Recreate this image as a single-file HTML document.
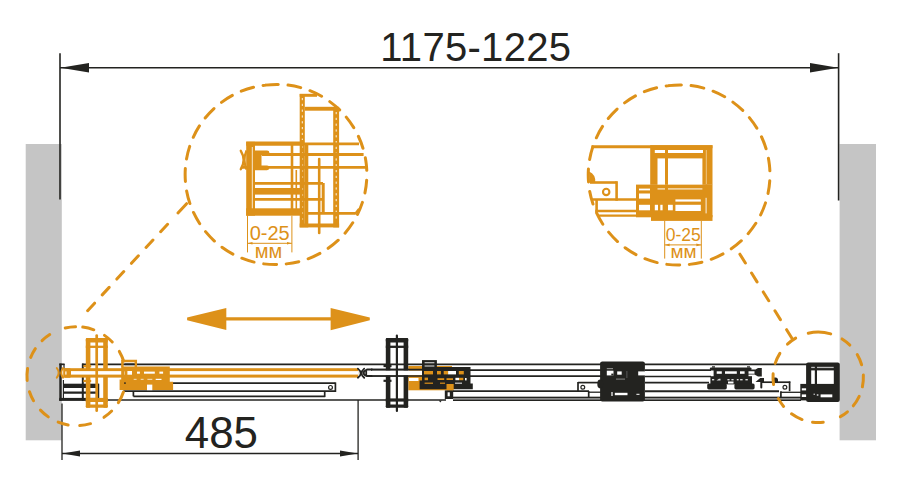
<!DOCTYPE html>
<html><head><meta charset="utf-8"><title>1175-1225</title>
<style>
html,body{margin:0;padding:0;background:#fff;}
body{width:898px;height:482px;overflow:hidden;font-family:"Liberation Sans",sans-serif;}
svg{display:block;font-family:"Liberation Sans",sans-serif;}
</style></head><body>
<svg width="898" height="482" viewBox="0 0 898 482">
<rect width="898" height="482" fill="#fff"/>
<rect x="25.70" y="144.00" width="36.10" height="296.30" fill="#c5c5c5" />
<rect x="839.60" y="144.00" width="36.40" height="296.30" fill="#c5c5c5" />
<line x1="60.00" y1="53.20" x2="60.00" y2="199.50" stroke="#232320" stroke-width="1.6" />
<line x1="838.60" y1="53.20" x2="838.60" y2="200.50" stroke="#232320" stroke-width="1.6" />
<line x1="60.00" y1="67.80" x2="838.60" y2="67.80" stroke="#232320" stroke-width="1.6" />
<polygon points="60.5,67.8 89,63 89,72.6" fill="#232320"/>
<polygon points="838.2,67.8 810,63 810,72.6" fill="#232320"/>
<text x="475.8" y="60.8" font-size="40" letter-spacing="0.3" text-anchor="middle" fill="#232320">1175-1225</text>
<line x1="62.00" y1="403.50" x2="62.00" y2="460.00" stroke="#232320" stroke-width="1.3" />
<line x1="358.10" y1="400.00" x2="358.10" y2="460.00" stroke="#232320" stroke-width="1.3" />
<line x1="62.00" y1="453.50" x2="358.10" y2="453.50" stroke="#232320" stroke-width="1.3" />
<polygon points="62.3,453.5 80,450.6 80,456.4" fill="#232320"/>
<polygon points="357.8,453.5 340,450.6 340,456.4" fill="#232320"/>
<text x="221.4" y="447.9" font-size="45" textLength="73.2" lengthAdjust="spacingAndGlyphs" text-anchor="middle" fill="#232320">485</text>
<line x1="220.00" y1="318.90" x2="336.00" y2="318.90" stroke="#dd9119" stroke-width="3.1" />
<polygon points="187.1,317.6 187.1,320.2 226.3,329.9 226.3,307.9" fill="#dd9119"/>
<polygon points="369.8,317.6 369.8,320.2 330.6,330.3 330.6,307.9" fill="#dd9119"/>
<path d="M265.49,85.12 A90,90 0 1 1 286.51,263.88 A90,90 0 1 1 265.49,85.12" fill="none" stroke="#dd9119" stroke-width="3.0" stroke-dasharray="12.89 9.73" stroke-linecap="round"/>
<path d="M668.59,85.62 A90,90 0 1 1 689.61,264.38 A90,90 0 1 1 668.59,85.62" fill="none" stroke="#dd9119" stroke-width="3.0" stroke-dasharray="12.89 9.73" stroke-linecap="round"/>
<line x1="186.58" y1="203.70" x2="177.96" y2="213.02" stroke="#dd9119" stroke-width="3.0" stroke-linecap="round"/>
<line x1="167.57" y1="224.25" x2="85.75" y2="312.70" stroke="#dd9119" stroke-width="3.0" stroke-dasharray="10.2 11.3" stroke-linecap="round"/>
<line x1="739.89" y1="254.18" x2="792.49" y2="339.18" stroke="#dd9119" stroke-width="3.0" stroke-dasharray="10.4 11.8" stroke-linecap="round"/>
<g id="detail-left">
<rect x="299.70" y="94.00" width="5.10" height="133.40" fill="#dd9119" />
<rect x="304.80" y="143.00" width="3.50" height="84.40" fill="#dd9119" />
<line x1="299.70" y1="95.30" x2="317.00" y2="95.30" stroke="#dd9119" stroke-width="3" />
<rect x="304.80" y="106.80" width="34.30" height="3.90" fill="#dd9119" />
<rect x="333.20" y="107.00" width="5.90" height="120.40" fill="#dd9119" />
<rect x="299.70" y="223.50" width="39.40" height="3.90" fill="#dd9119" />
<line x1="302.30" y1="98.00" x2="302.30" y2="140.00" stroke="#ffffff" stroke-width="0.9" stroke-dasharray="2.2 3.6"/>
<line x1="302.60" y1="146.00" x2="302.60" y2="222.00" stroke="#f0c583" stroke-width="0.8" stroke-dasharray="2 4"/>
<line x1="336.20" y1="112.00" x2="336.20" y2="222.00" stroke="#ffffff" stroke-width="0.9" stroke-dasharray="2.2 3.6"/>
<line x1="246.20" y1="143.60" x2="300.00" y2="143.60" stroke="#dd9119" stroke-width="4.2" />
<line x1="300.00" y1="143.80" x2="359.00" y2="143.80" stroke="#dd9119" stroke-width="2.8" />
<line x1="262.00" y1="154.50" x2="363.60" y2="154.50" stroke="#dd9119" stroke-width="2.8" />
<line x1="241.00" y1="167.30" x2="366.00" y2="167.30" stroke="#dd9119" stroke-width="2.8" />
<rect x="246.20" y="141.80" width="8.80" height="73.90" fill="#dd9119" />
<line x1="252.30" y1="147.00" x2="252.30" y2="209.00" stroke="#ffffff" stroke-width="0.8" />
<rect x="246.20" y="208.30" width="54.30" height="7.40" fill="#dd9119" />
<line x1="255.00" y1="183.40" x2="323.00" y2="183.40" stroke="#dd9119" stroke-width="2.8" />
<rect x="255.00" y="188.00" width="45.00" height="6.60" fill="#dd9119" />
<line x1="255.00" y1="199.40" x2="323.00" y2="199.40" stroke="#dd9119" stroke-width="2.8" />
<line x1="292.00" y1="145.00" x2="292.00" y2="212.00" stroke="#dd9119" stroke-width="2.6" />
<line x1="296.30" y1="170.00" x2="296.30" y2="212.00" stroke="#dd9119" stroke-width="1.6" />
<line x1="319.20" y1="159.00" x2="319.20" y2="233.00" stroke="#dd9119" stroke-width="2.6" stroke-linecap="round"/>
<line x1="323.20" y1="183.00" x2="323.20" y2="214.00" stroke="#dd9119" stroke-width="3" />
<line x1="308.00" y1="213.40" x2="355.50" y2="213.40" stroke="#dd9119" stroke-width="2.6" />
<line x1="355.50" y1="213.40" x2="358.50" y2="209.50" stroke="#dd9119" stroke-width="2.2" stroke-linecap="round"/>
<path d="M255,150.4 H267 a2.4,2.4 0 0 1 0,4.8 H261.5 V165.4 H267 a2.4,2.4 0 0 1 0,4.8 H255 Z" fill="#dd9119" stroke="none" stroke-width="0" />
<path d="M240.8,150.8 Q246.5,160 240.8,169.2" fill="none" stroke="#dd9119" stroke-width="2.4" stroke-linecap="round"/>
<path d="M246.5,150.5 Q242.5,160 246.5,169.5" fill="none" stroke="#dd9119" stroke-width="2.2" />
<line x1="247.50" y1="215.70" x2="247.50" y2="252.40" stroke="#dd9119" stroke-width="1.0" />
<line x1="291.90" y1="215.70" x2="291.90" y2="252.40" stroke="#dd9119" stroke-width="1.0" />
<line x1="247.50" y1="243.30" x2="291.90" y2="243.30" stroke="#dd9119" stroke-width="1.0" />
<polygon points="247.8,243.3 252.5,242 252.5,244.6" fill="#dd9119"/>
<polygon points="291.6,243.3 287,242 287,244.6" fill="#dd9119"/>
<text x="269.7" y="240.2" font-size="20" text-anchor="middle" fill="#dd9119">0-25</text>
<text x="268.5" y="257.8" font-size="20" text-anchor="middle" fill="#dd9119">мм</text>
</g>
<g id="detail-right">
<line x1="591.50" y1="146.70" x2="712.50" y2="146.70" stroke="#dd9119" stroke-width="3" />
<rect x="650.20" y="145.20" width="62.30" height="39.60" fill="#dd9119" />
<rect x="636.00" y="184.60" width="76.50" height="32.70" fill="#dd9119" />
<rect x="651.00" y="215.00" width="61.50" height="5.90" fill="#dd9119" />
<rect x="654.80" y="150.00" width="10.20" height="3.00" fill="#ffffff" />
<rect x="668.00" y="150.00" width="35.00" height="3.00" fill="#ffffff" />
<rect x="657.50" y="158.40" width="7.50" height="26.20" fill="#ffffff" />
<rect x="668.00" y="158.40" width="34.40" height="26.20" fill="#ffffff" />
<line x1="706.30" y1="150.00" x2="706.30" y2="184.00" stroke="#f3d3a0" stroke-width="0.8" />
<rect x="639.00" y="188.60" width="11.00" height="1.80" fill="#ffffff" />
<rect x="657.50" y="188.20" width="7.50" height="1.40" fill="#f6dfba" />
<rect x="668.00" y="188.20" width="34.40" height="1.40" fill="#f6dfba" />
<rect x="639.00" y="193.50" width="11.00" height="5.10" fill="#ffffff" />
<rect x="639.00" y="204.80" width="11.00" height="5.50" fill="#ffffff" />
<rect x="654.80" y="204.80" width="3.20" height="5.50" fill="#ffffff" />
<rect x="660.30" y="204.80" width="2.30" height="5.50" fill="#ffffff" />
<rect x="668.00" y="204.80" width="4.80" height="5.50" fill="#ffffff" />
<rect x="675.40" y="199.40" width="25.40" height="2.20" fill="#ffffff" />
<rect x="675.40" y="204.80" width="25.40" height="6.20" fill="#ffffff" />
<line x1="706.10" y1="197.80" x2="706.10" y2="213.40" stroke="#ffffff" stroke-width="0.9" />
<line x1="590.00" y1="182.50" x2="616.60" y2="182.50" stroke="#dd9119" stroke-width="2.6" />
<line x1="616.60" y1="181.20" x2="616.60" y2="200.80" stroke="#dd9119" stroke-width="2.6" />
<line x1="592.50" y1="199.50" x2="636.00" y2="199.50" stroke="#dd9119" stroke-width="2.6" />
<line x1="596.60" y1="199.50" x2="596.60" y2="212.00" stroke="#dd9119" stroke-width="2.6" />
<line x1="595.30" y1="211.00" x2="636.00" y2="211.00" stroke="#dd9119" stroke-width="2.4" />
<line x1="599.00" y1="215.60" x2="636.00" y2="215.60" stroke="#dd9119" stroke-width="2.4" />
<circle cx="606.2" cy="191.9" r="3.2" fill="none" stroke="#dd9119" stroke-width="2.1"/>
<path d="M589,171.5 Q596,174.5 595.2,182.5 H589.5 Z" fill="#dd9119" stroke="none" stroke-width="0" />
<line x1="664.70" y1="220.90" x2="664.70" y2="258.60" stroke="#dd9119" stroke-width="1.0" />
<line x1="701.30" y1="220.90" x2="701.30" y2="258.60" stroke="#dd9119" stroke-width="1.0" />
<line x1="664.70" y1="244.90" x2="701.30" y2="244.90" stroke="#dd9119" stroke-width="1.0" />
<polygon points="665,244.9 669.6,243.6 669.6,246.2" fill="#dd9119"/>
<polygon points="701,244.9 696.4,243.6 696.4,246.2" fill="#dd9119"/>
<text x="683.3" y="241.1" font-size="18.4" textLength="35" lengthAdjust="spacingAndGlyphs" text-anchor="middle" fill="#dd9119">0-25</text>
<text x="683.5" y="258.1" font-size="19" text-anchor="middle" fill="#dd9119">мм</text>
</g>
<g id="assembly">
<line x1="82.00" y1="364.30" x2="807.00" y2="364.30" stroke="#232320" stroke-width="1.7" />
<line x1="59.30" y1="400.00" x2="446.00" y2="400.00" stroke="#232320" stroke-width="1.7" />
<line x1="82.80" y1="363.60" x2="82.80" y2="400.70" stroke="#232320" stroke-width="2" />
<rect x="59.30" y="363.60" width="2.40" height="37.10" fill="#232320" />
<line x1="59.30" y1="364.30" x2="64.60" y2="364.30" stroke="#232320" stroke-width="1.7" />
<line x1="64.00" y1="364.00" x2="64.00" y2="369.00" stroke="#232320" stroke-width="1.2" />
<line x1="63.40" y1="380.00" x2="63.40" y2="400.00" stroke="#232320" stroke-width="1.2" />
<rect x="64.00" y="383.70" width="34.60" height="4.30" fill="#232320" />
<line x1="64.00" y1="392.60" x2="98.60" y2="392.60" stroke="#232320" stroke-width="2.1" />
<rect x="59.30" y="397.90" width="39.30" height="2.70" fill="#232320" />
<line x1="98.60" y1="383.70" x2="98.60" y2="400.00" stroke="#232320" stroke-width="1.3" />
<line x1="171.50" y1="383.10" x2="335.40" y2="383.10" stroke="#232320" stroke-width="1.7" />
<line x1="123.40" y1="391.20" x2="335.40" y2="391.20" stroke="#232320" stroke-width="1.7" />
<line x1="133.40" y1="396.40" x2="324.70" y2="396.40" stroke="#232320" stroke-width="1.7" />
<line x1="133.40" y1="391.20" x2="133.40" y2="396.40" stroke="#232320" stroke-width="1.7" />
<line x1="335.40" y1="382.40" x2="335.40" y2="392.00" stroke="#232320" stroke-width="1.7" />
<line x1="324.70" y1="391.20" x2="324.70" y2="397.10" stroke="#232320" stroke-width="1.7" />
<circle cx="330.5" cy="387.4" r="1.9" fill="none" stroke="#232320" stroke-width="1.2"/>
<rect x="85.80" y="338.00" width="4.60" height="69.80" fill="#dd9119" rx="1"/>
<rect x="103.20" y="338.00" width="4.60" height="69.80" fill="#dd9119" rx="1"/>
<rect x="85.80" y="338.00" width="22.00" height="4.40" fill="#dd9119" rx="1.5"/>
<rect x="85.80" y="404.50" width="22.00" height="3.30" fill="#dd9119" rx="1.5"/>
<line x1="85.80" y1="346.80" x2="107.80" y2="346.80" stroke="#dd9119" stroke-width="2.3" />
<rect x="85.80" y="397.90" width="22.00" height="4.10" fill="#dd9119" />
<line x1="83.40" y1="366.20" x2="91.20" y2="366.20" stroke="#dd9119" stroke-width="2.2" />
<line x1="83.40" y1="381.00" x2="91.20" y2="381.00" stroke="#dd9119" stroke-width="2.2" />
<rect x="63.20" y="368.20" width="295.00" height="9.40" fill="#dd9119" />
<rect x="71.00" y="371.10" width="287.20" height="3.50" fill="#ffffff" />
<line x1="96.70" y1="335.50" x2="96.70" y2="410.70" stroke="#dd9119" stroke-width="2.7" stroke-linecap="round"/>
<path d="M56.8,368 Q60.5,372.8 56.8,377.6" fill="none" stroke="#dd9119" stroke-width="2.0" stroke-linecap="round"/>
<path d="M63,368 Q59.5,372.8 63,377.6" fill="none" stroke="#dd9119" stroke-width="2.0" stroke-linecap="round"/>
<path d="M64.5,368.2 H69.5 a1.3,1.3 0 0 1 0,2.6 H66.8 V375.2 H69.5 a1.3,1.3 0 0 1 0,2.6 H64.5 Z" fill="#dd9119" stroke="none" stroke-width="0" />
<rect x="65.30" y="371.40" width="1.20" height="3.20" fill="#ffffff" />
<path d="M121.2,366.4 H169.8 V381.8 H173.1 V390 H119.6 V379.4 H121.2 Z" fill="#dd9119" stroke="none" stroke-width="0" />
<path d="M122.4,367 V361 H135.8 V367" fill="none" stroke="#dd9119" stroke-width="2.5" />
<line x1="124.60" y1="364.30" x2="134.60" y2="364.30" stroke="#232320" stroke-width="1.7" />
<rect x="147.00" y="384.60" width="5.30" height="5.60" fill="#ffffff" />
<rect x="127.40" y="371.00" width="4.60" height="3.70" fill="#ffffff" />
<rect x="137.00" y="371.60" width="2.90" height="2.10" fill="#ffffff" />
<rect x="144.00" y="371.60" width="10.80" height="2.10" fill="#ffffff" />
<rect x="159.40" y="371.60" width="3.70" height="2.10" fill="#ffffff" />
<rect x="133.70" y="378.80" width="2.90" height="1.20" fill="#f3d5a4" />
<rect x="140.70" y="378.80" width="2.90" height="1.20" fill="#f3d5a4" />
<rect x="147.40" y="378.80" width="4.90" height="1.20" fill="#f3d5a4" />
<rect x="155.70" y="378.80" width="5.80" height="1.20" fill="#ffffff" />
<rect x="124.20" y="371.40" width="0.70" height="3.30" fill="#f3d5a4" />
<rect x="124.10" y="382.40" width="1.70" height="1.40" fill="#232320" />
<line x1="371.00" y1="369.70" x2="423.00" y2="369.70" stroke="#232320" stroke-width="1.7" />
<line x1="371.00" y1="376.00" x2="423.00" y2="376.00" stroke="#232320" stroke-width="1.7" />
<path d="M357.9,368.6 Q363.6,373.2 357.9,377.8" fill="none" stroke="#232320" stroke-width="1.8" stroke-linecap="round"/>
<path d="M364.2,368.6 Q358.8,373.2 364.2,377.8" fill="none" stroke="#232320" stroke-width="1.8" stroke-linecap="round"/>
<path d="M372.5,369.6 H367 Q360,372.9 367,376.1 H372.5" fill="none" stroke="#232320" stroke-width="2.0" />
<line x1="366.20" y1="370.50" x2="366.20" y2="375.30" stroke="#232320" stroke-width="1.8" />
<rect x="408.30" y="366.00" width="43.70" height="24.30" fill="#dd9119" />
<rect x="404.00" y="370.60" width="19.00" height="4.60" fill="#ffffff" />
<rect x="409.00" y="377.90" width="9.50" height="3.10" fill="#ffffff" />
<rect x="385.80" y="338.00" width="4.60" height="69.80" fill="#232320" rx="1"/>
<rect x="403.60" y="338.00" width="4.60" height="69.80" fill="#232320" rx="1"/>
<rect x="385.80" y="338.00" width="22.40" height="4.40" fill="#232320" rx="1.5"/>
<rect x="385.80" y="404.50" width="22.40" height="3.30" fill="#232320" rx="1.5"/>
<line x1="385.80" y1="346.80" x2="408.20" y2="346.80" stroke="#232320" stroke-width="2.3" />
<rect x="385.80" y="398.40" width="22.40" height="3.20" fill="#232320" />
<line x1="383.50" y1="366.00" x2="391.50" y2="366.00" stroke="#232320" stroke-width="2.2" />
<line x1="383.50" y1="380.80" x2="391.50" y2="380.80" stroke="#232320" stroke-width="2.2" />
<rect x="372.00" y="370.50" width="37.00" height="4.70" fill="#ffffff" />
<line x1="371.00" y1="369.70" x2="423.00" y2="369.70" stroke="#232320" stroke-width="1.7" />
<line x1="371.00" y1="376.00" x2="423.00" y2="376.00" stroke="#232320" stroke-width="1.7" />
<line x1="396.90" y1="335.50" x2="396.90" y2="410.90" stroke="#232320" stroke-width="2.2" stroke-linecap="round"/>
<rect x="422.00" y="360.10" width="14.90" height="7.90" fill="#232320" />
<line x1="424.60" y1="362.70" x2="434.40" y2="362.70" stroke="#c9c9c9" stroke-width="1.2" />
<line x1="424.60" y1="366.00" x2="434.40" y2="366.00" stroke="#c9c9c9" stroke-width="1.2" />
<path d="M422,367 H470.5 V383.4 H472.8 V389.2 H419.6 V380.6 H422 Z" fill="#232320" stroke="none" stroke-width="0" />
<rect x="424.00" y="371.00" width="9.00" height="3.40" fill="#dd9119" />
<rect x="437.00" y="371.00" width="3.90" height="3.40" fill="#dd9119" />
<rect x="443.70" y="371.00" width="4.40" height="3.40" fill="#dd9119" />
<rect x="448.10" y="371.00" width="7.90" height="3.40" fill="#ffffff" />
<rect x="458.80" y="371.00" width="5.00" height="3.40" fill="#dd9119" />
<rect x="424.60" y="377.60" width="3.40" height="2.60" fill="#dd9119" />
<rect x="437.50" y="378.20" width="6.70" height="1.80" fill="#dd9119" />
<rect x="446.50" y="378.20" width="6.50" height="1.80" fill="#dd9119" />
<rect x="455.40" y="377.80" width="3.60" height="2.40" fill="#ffffff" />
<rect x="459.00" y="377.80" width="4.30" height="2.40" fill="#dd9119" />
<rect x="465.00" y="378.00" width="1.60" height="2.40" fill="#ffffff" />
<rect x="424.60" y="382.60" width="8.40" height="1.20" fill="#dd9119" />
<rect x="440.00" y="382.60" width="5.00" height="1.20" fill="#dd9119" />
<rect x="455.00" y="382.60" width="7.00" height="1.20" fill="#cfcfcf" />
<rect x="446.50" y="384.00" width="7.20" height="6.70" fill="#dd9119" />
<rect x="444.80" y="390.40" width="8.40" height="8.60" fill="#232320" />
<rect x="447.60" y="392.30" width="2.20" height="4.00" fill="#ffffff" />
<polygon points="438.8,400.6 441.8,400.6 440.3,402.6" fill="#232320"/>
<line x1="470.00" y1="370.10" x2="601.00" y2="370.10" stroke="#232320" stroke-width="1.7" />
<line x1="470.00" y1="376.20" x2="601.00" y2="376.20" stroke="#232320" stroke-width="1.7" />
<line x1="453.00" y1="391.10" x2="589.00" y2="391.10" stroke="#232320" stroke-width="1.7" />
<rect x="453.00" y="396.80" width="348.00" height="4.10" fill="#8a8a89" />
<line x1="453.00" y1="397.30" x2="801.00" y2="397.30" stroke="#232320" stroke-width="1.3" />
<line x1="453.00" y1="400.40" x2="801.00" y2="400.40" stroke="#232320" stroke-width="1.3" />
<line x1="578.00" y1="382.60" x2="601.00" y2="382.60" stroke="#232320" stroke-width="1.7" />
<line x1="578.00" y1="381.90" x2="578.00" y2="391.80" stroke="#232320" stroke-width="1.7" />
<circle cx="582.8" cy="387.3" r="1.9" fill="none" stroke="#232320" stroke-width="1.2"/>
<line x1="588.70" y1="391.10" x2="588.70" y2="397.00" stroke="#232320" stroke-width="1.7" />
<line x1="588.70" y1="392.20" x2="601.00" y2="392.20" stroke="#232320" stroke-width="1.3" />
<rect x="600.1" y="361.4" width="44.8" height="40.1" rx="2.2" fill="#232320"/>
<ellipse cx="600.2" cy="384" rx="2.9" ry="4.4" fill="#232320"/>
<rect x="606.80" y="370.70" width="6.70" height="4.70" fill="#ffffff" />
<rect x="611.30" y="373.60" width="2.20" height="1.80" fill="#232320" />
<rect x="617.20" y="371.40" width="4.50" height="3.30" fill="#ffffff" />
<rect x="614.80" y="392.80" width="12.70" height="2.40" fill="#ffffff" />
<rect x="611.40" y="392.00" width="1.20" height="4.00" fill="#ffffff" />
<rect x="606.80" y="368.00" width="6.20" height="1.20" fill="#8a8a89" />
<rect x="616.00" y="378.60" width="9.00" height="1.00" fill="#8a8a89" />
<rect x="626.50" y="371.00" width="0.80" height="7.00" fill="#666" />
<rect x="638.20" y="371.40" width="7.00" height="4.00" fill="#ffffff" />
<rect x="636.40" y="393.80" width="3.10" height="1.00" fill="#ffffff" />
<line x1="645.00" y1="370.10" x2="711.00" y2="370.10" stroke="#232320" stroke-width="1.7" />
<line x1="645.00" y1="376.50" x2="711.00" y2="376.50" stroke="#232320" stroke-width="1.7" />
<line x1="645.00" y1="382.70" x2="709.00" y2="382.70" stroke="#232320" stroke-width="1.7" />
<line x1="645.00" y1="391.20" x2="779.00" y2="391.20" stroke="#232320" stroke-width="2" />
<rect x="710.00" y="367.40" width="41.40" height="3.10" fill="#232320" rx="0.8"/>
<rect x="713.60" y="369.00" width="34.90" height="8.00" fill="#232320" />
<rect x="710.40" y="376.20" width="41.60" height="8.20" fill="#232320" />
<rect x="712.00" y="366.30" width="3.00" height="1.30" fill="#232320" />
<rect x="747.00" y="366.30" width="3.00" height="1.30" fill="#232320" />
<rect x="707.20" y="383.40" width="19.60" height="6.00" fill="#232320" rx="1.6"/>
<rect x="734.40" y="383.40" width="20.20" height="6.00" fill="#232320" rx="1.6"/>
<rect x="716.70" y="371.30" width="5.10" height="2.50" fill="#ffffff" />
<rect x="725.00" y="371.30" width="11.80" height="2.50" fill="#ffffff" />
<rect x="740.00" y="371.30" width="4.60" height="2.50" fill="#ffffff" />
<rect x="712.00" y="379.00" width="2.20" height="1.40" fill="#d9d9d9" />
<path d="M716.5,380.6 L719,378.8 H720.5 V380.6 Z" fill="#d9d9d9" stroke="none" stroke-width="0" />
<rect x="727.40" y="379.00" width="2.20" height="1.40" fill="#d9d9d9" />
<rect x="731.40" y="379.00" width="2.20" height="1.40" fill="#d9d9d9" />
<rect x="736.80" y="379.00" width="1.80" height="1.40" fill="#d9d9d9" />
<rect x="740.10" y="379.00" width="2.50" height="1.40" fill="#d9d9d9" />
<rect x="745.40" y="379.00" width="2.40" height="1.40" fill="#d9d9d9" />
<rect x="728.00" y="381.50" width="5.50" height="2.00" fill="#ffffff" />
<path d="M748,369.4 L755.5,369.4 L758,368 H761.8 V376.4 H758 L754.5,374.6 H748 V373.8 H754.5 V371.2 H748 Z" fill="#232320" stroke="none" stroke-width="0" />
<path d="M755.5,382 L760.2,378 H764 V382 H762.3 V387.6 a1,1 0 0 1 -2,0 V382 Z" fill="#232320" stroke="none" stroke-width="0" />
<line x1="762.00" y1="382.20" x2="790.30" y2="382.20" stroke="#232320" stroke-width="1.7" />
<line x1="789.60" y1="381.50" x2="789.60" y2="391.20" stroke="#232320" stroke-width="1.7" />
<circle cx="784.9" cy="387.3" r="1.9" fill="none" stroke="#232320" stroke-width="1.2"/>
<path d="M772.9,382.2 V377.4 H775.5 a2.5,2.5 0 0 1 2.5,2.5 V382.2 Z" fill="#232320" stroke="none" stroke-width="0" />
<line x1="780.90" y1="391.20" x2="780.90" y2="397.30" stroke="#232320" stroke-width="1.7" />
<line x1="780.90" y1="392.30" x2="801.00" y2="392.30" stroke="#232320" stroke-width="1.3" />
<rect x="806.1" y="362.4" width="33.7" height="39.5" rx="2" fill="#232320"/>
<rect x="800.30" y="383.90" width="7.70" height="16.50" fill="#232320" />
<rect x="811.20" y="366.80" width="3.60" height="1.30" fill="#bdbdbd" />
<rect x="817.00" y="366.80" width="16.70" height="1.30" fill="#bdbdbd" />
<rect x="811.20" y="370.40" width="3.60" height="13.50" fill="#ffffff" />
<rect x="817.00" y="370.40" width="16.80" height="13.50" fill="#ffffff" />
<rect x="801.80" y="388.30" width="4.30" height="2.10" fill="#ffffff" />
<rect x="801.80" y="394.40" width="4.30" height="2.60" fill="#ffffff" />
<rect x="820.60" y="394.40" width="11.70" height="2.90" fill="#ffffff" />
<rect x="813.50" y="393.60" width="1.50" height="1.40" fill="#aaa" />
<rect x="816.80" y="394.00" width="1.60" height="2.00" fill="#aaa" />
</g>
<path d="M65.23,328.00 A49.5,49.5 0 0 1 75.52,326.71 M82.74,327.09 A49.5,49.5 0 0 1 93.81,329.82 M104.49,335.37 A49.5,49.5 0 0 1 112.27,341.98 M119.34,351.40 A49.5,49.5 0 0 1 123.62,361.04 M123.43,391.94 A49.5,49.5 0 0 1 118.36,402.62 M111.66,411.04 A49.5,49.5 0 0 1 103.99,417.36 M90.53,423.67 A49.5,49.5 0 0 1 79.73,425.59 M68.13,424.99 A49.5,49.5 0 0 1 58.15,422.17 M48.29,416.88 A49.5,49.5 0 0 1 40.44,410.11 M33.53,400.77 A49.5,49.5 0 0 1 29.49,391.69 M27.18,380.40 A49.5,49.5 0 0 1 27.60,368.49 M30.71,357.39 A49.5,49.5 0 0 1 35.35,348.69 M42.07,340.63 A49.5,49.5 0 0 1 49.73,334.56 " fill="none" stroke="#dd9119" stroke-width="3.0" stroke-linecap="round"/>
<path d="M808.26,333.21 A45.2,45.2 0 0 1 830.73,333.87 M842.09,338.93 A45.2,45.2 0 0 1 849.88,345.06 M857.23,354.50 A45.2,45.2 0 0 1 861.63,364.76 M863.35,375.09 A45.2,45.2 0 0 1 862.38,386.85 M859.20,396.33 A45.2,45.2 0 0 1 853.28,405.81 M847.43,411.77 A45.2,45.2 0 0 1 840.39,416.68 M823.24,422.22 A45.2,45.2 0 0 1 812.54,422.14 M802.07,419.53 A45.2,45.2 0 0 1 791.51,413.78 M783.62,406.41 A45.2,45.2 0 0 1 778.37,398.66 M773.57,384.45 A45.2,45.2 0 0 1 773.13,373.83 M775.19,363.41 A45.2,45.2 0 0 1 779.87,353.35 M787.49,344.13 A45.2,45.2 0 0 1 795.67,338.12 " fill="none" stroke="#dd9119" stroke-width="3.0" stroke-linecap="round"/>
<!--MAIN-->
</svg>
</body></html>
